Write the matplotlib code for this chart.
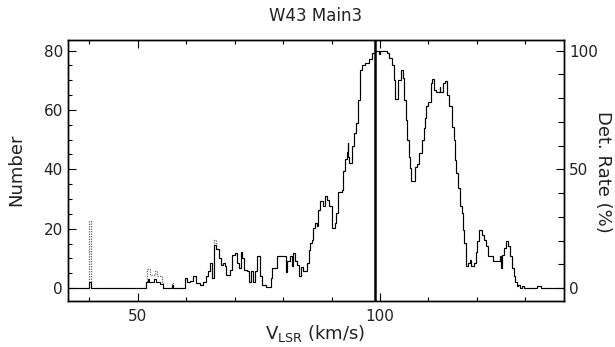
import numpy as np
import matplotlib
matplotlib.use("Agg")
import matplotlib.pyplot as plt
from matplotlib.ticker import MultipleLocator

# histogram steps: left edges of each step (km/s), last entry closes the final step
v_edges = [35.0, 40.0, 40.4, 51.6, 51.9, 52.0, 52.3, 52.5, 53.4, 53.5, 53.7, 54.0,
           54.6, 54.9, 55.2, 57.0, 57.3, 59.7, 60.2, 60.8, 61.4, 62.0, 62.8, 63.5,
           64.0, 64.5, 65.0, 65.3, 65.7, 66.1, 66.7, 67.1, 67.5, 68.0, 68.3, 69.1,
           69.4, 70.0, 70.4, 70.8, 71.2, 71.6, 72.0, 72.6, 73.0, 73.3, 73.8, 74.2,
           74.7, 75.2, 75.6, 76.4, 77.4, 77.8, 78.8, 80.5, 80.9, 81.4, 81.8, 82.1,
           82.5, 82.9, 83.3, 83.7, 84.2, 84.85, 85.3, 85.5, 85.9, 86.2, 86.6, 86.9,
           87.3, 87.6, 88.2, 88.6, 89.0, 89.5, 90.0, 90.7, 91.0, 91.4, 92.1, 92.4,
           92.8, 93.1, 93.3, 93.5, 93.7, 94.15, 94.6, 95.0, 95.5, 95.9, 96.3, 96.9,
           97.8, 98.3, 99.0, 99.9, 100.1, 101.4, 101.9, 102.4, 102.8, 103.1, 103.8,
           104.3, 104.7, 105.0, 105.4, 105.6, 105.9, 106.2, 106.5, 107.2, 107.6,
           108.1, 108.6, 109.0, 109.3, 109.6, 110.0, 110.5, 110.7, 111.2, 111.6,
           112.3, 112.5, 113.1, 113.4, 113.8, 114.3, 114.8, 115.2, 115.5, 115.8,
           116.2, 116.5, 116.9, 117.2, 117.4, 117.8, 118.1, 118.6, 118.9, 119.4,
           119.8, 120.1, 120.5, 121.0, 121.5, 121.9, 122.4, 123.3, 124.7, 124.9,
           125.2, 125.6, 126.0, 126.5, 126.9, 127.2, 127.6, 127.9, 128.2, 128.6,
           128.9, 129.3, 129.8, 132.4, 133.2, 139.0]

n_solid = [0, 1.9, 0, 2.0, 2.0, 3.0, 2.0, 2.0, 3.0, 3.0, 2.0, 2.0,
           1.5, 1.5, 0, 1.0, 0, 3.4, 2.2, 2.5, 4.1, 1.7, 1.1, 2.2,
           3.9, 5.6, 8.4, 3.4, 14.6, 13.1, 10.1, 7.9, 8.4, 7.3, 4.5, 6.2,
           11.2, 11.8, 8.4, 6.7, 12.0, 10.1, 6.2, 5.6, 2.2, 5.9, 2.2, 5.6,
           10.7, 3.9, 1.1, 0.4, 3.4, 6.7, 10.7, 5.3, 9.0, 10.7, 7.3, 11.8,
           9.0, 7.9, 3.9, 7.0, 5.6, 8.4, 12.9, 15.2, 16.3, 20.2, 21.9, 20.8,
           26.4, 29.2, 27.5, 30.9, 29.7, 27.5, 20.2, 21.9, 25.3, 32.5, 33.1, 39.3,
           43.5, 46.0, 49.0, 44.0, 42.0, 47.7, 52.2, 55.5, 63.4, 73.5, 75.2, 75.8,
           77.0, 79.3, 79.7, 78.9, 79.7, 79.1, 77.4, 75.2, 70.1, 63.8, 70.1,
           73.5, 70.7, 63.4, 56.7, 50.0, 44.3, 40.4, 35.9, 40.8, 41.9,
           45.5, 50.0, 53.9, 57.2, 61.2, 62.8, 69.0, 70.4, 66.8, 66.2,
           67.9, 66.2, 69.0, 69.6, 65.1, 61.2, 54.4, 50.0, 43.2, 38.7,
           33.7, 27.5, 25.2, 19.6, 15.2, 7.3, 8.4, 9.5, 7.3, 8.4,
           12.3, 15.7, 19.6, 18.0, 16.3, 14.0, 10.7, 9.0, 10.7, 6.7,
           11.2, 13.5, 15.7, 14.0, 10.7, 6.7, 3.9, 2.2, 0.6, 1.1,
           0, 0.8, 0, 0.8, 0]

# dotted histogram differs from the solid one only in a few steps
dot_steps = [40.0, 51.6, 51.9, 52.0, 52.3, 52.5, 53.4, 53.5, 53.7, 54.0, 54.6, 54.9, 57.0, 65.7]
dot_values = [22.5, 2.5, 6.4, 6.4, 6.4, 4.5, 4.5, 5.9, 5.9, 4.1, 4.1, 1.7, 1.7, 16.3]

v_mark = 99.0
title = "W43 Main3"

n_dotted = list(n_solid)
for v, n in zip(dot_steps, dot_values):
    n_dotted[v_edges.index(v)] = n

TXT = "#222222"

fig = plt.figure(figsize=(6.15, 3.47), dpi=100)
ax = fig.add_axes([0.110, 0.134, 0.807, 0.751])

ax.stairs(n_dotted, v_edges, baseline=None, color="#666666", lw=0.9, ls=(0, (1, 1)))
ax.stairs(n_solid, v_edges, baseline=None, color="black", lw=0.8)
ax.axvline(v_mark, color="black", lw=1.8)

ax.set_xlim(35.5, 138.0)
ax.set_ylim(-4.2, 83.6)

ax.xaxis.set_major_locator(MultipleLocator(50))
ax.xaxis.set_minor_locator(MultipleLocator(10))
ax.yaxis.set_major_locator(MultipleLocator(20))
ax.yaxis.set_minor_locator(MultipleLocator(5))
ax.tick_params(which="both", direction="in", top=True, right=False, labelsize=11,
               colors="black", labelcolor=TXT)
ax.tick_params(which="major", length=6, width=0.8)
ax.tick_params(which="minor", length=3, width=0.8)
ax.tick_params(axis="x", pad=6)

ax2 = ax.twinx()
ax2.set_ylim(-4.2 * 100 / 80, 83.6 * 100 / 80)
ax2.yaxis.set_major_locator(MultipleLocator(50))
ax2.yaxis.set_minor_locator(MultipleLocator(10))
ax2.tick_params(which="both", direction="in", labelsize=11, labelcolor=TXT)
ax2.tick_params(which="major", length=6, width=0.8)
ax2.tick_params(which="minor", length=4, width=0.8)

for a in (ax, ax2):
    for s in a.spines.values():
        s.set_linewidth(1.0)

# axis titles placed in figure coordinates to match the reference margins
fig.text(0.027, 0.51, "Number", fontsize=13, color=TXT, rotation=90,
         ha="center", va="center")
fig.text(0.980, 0.505, "Det. Rate (%)", fontsize=13, color=TXT, rotation=270,
         ha="center", va="center")
fig.text(0.513, 0.022, r"V$_{\rm LSR}$ (km/s)", fontsize=13, color=TXT,
         ha="center", va="baseline")
fig.text(0.513, 0.955, title, fontsize=12, ha="center", va="center", color=TXT)

fig.savefig("out.png", dpi=100)
